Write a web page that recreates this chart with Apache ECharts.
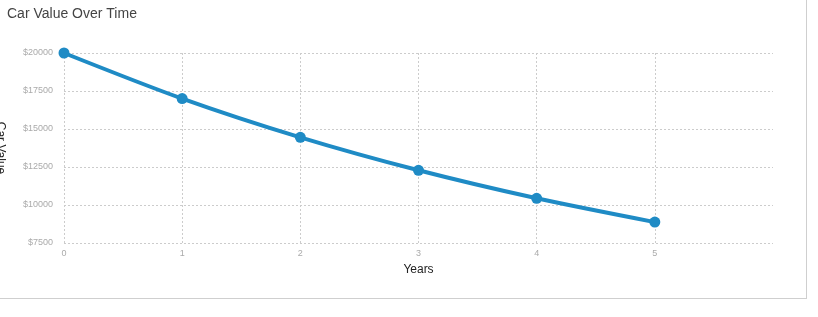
<!DOCTYPE html>
<html>
<head>
<meta charset="utf-8">
<script src="https://cdn.jsdelivr.net/npm/echarts@6/dist/echarts.min.js"></script>
<style>
  html, body { margin: 0; padding: 0; background: #fff; }
  #frame { position: absolute; left: 0; top: 0; width: 806px; height: 298px; border-right: 1px solid #cfcfcf; border-bottom: 1px solid #cfcfcf; }
  #chart { position: absolute; left: 0; top: 0; width: 818px; height: 317px; }
</style>
</head>
<body>
<div id="frame"></div>
<div id="chart"></div>
<script>
const years = [0, 1, 2, 3, 4, 5];
const carValues = [20000, 17000, 14450, 12282.5, 10440, 8874];
const yTicks = [7500, 10000, 12500, 15000, 17500, 20000];

const chart = echarts.init(document.getElementById('chart'), null, { renderer: 'canvas' });
const gridLine = { color: '#cccccc', type: [2, 2], width: 1 };
chart.setOption({
  animation: false,
  title: {
    text: 'Car Value Over Time',
    left: 2, top: 2,
    textStyle: { fontFamily: 'Liberation Sans, Arial, sans-serif', fontSize: 14, fontWeight: 'normal', color: '#444' }
  },
  grid: { left: 64, right: 45, top: 53, bottom: 74, containLabel: false, outerBoundsMode: 'none' },
  xAxis: {
    type: 'value', min: 0, max: 6, interval: 1,
    name: 'Years', nameLocation: 'middle', nameGap: 21,
    nameTextStyle: { fontFamily: 'Liberation Sans, Arial, sans-serif', fontSize: 12, color: '#222' },
    axisLine: { show: false }, axisTick: { show: false },
    axisLabel: { showMaxLabel: false, color: '#aaa', fontSize: 9, margin: 6, fontFamily: 'Liberation Sans, Arial, sans-serif' },
    splitLine: { show: true, showMaxLine: false, lineStyle: gridLine }
  },
  yAxis: {
    type: 'value', min: yTicks[0], max: yTicks[yTicks.length - 1], interval: 2500,
    name: 'Car Value', nameLocation: 'middle', nameGap: 58, nameRotate: -90,
    nameTextStyle: { fontFamily: 'Liberation Sans, Arial, sans-serif', fontSize: 12, color: '#222' },
    axisLine: { show: false }, axisTick: { show: false },
    axisLabel: { color: '#aaa', fontSize: 9, margin: 11, fontFamily: 'Liberation Sans, Arial, sans-serif', formatter: v => '$' + v },
    splitLine: { show: true, lineStyle: gridLine }
  },
  series: [{
    type: 'line',
    data: years.map((y, i) => [y, carValues[i]]),
    smooth: 0.3,
    symbol: 'circle', symbolSize: 11,
    lineStyle: { color: '#1f8bc5', width: 4 },
    itemStyle: { color: '#1f8bc5' }
  }]
});
</script>
</body>
</html>
